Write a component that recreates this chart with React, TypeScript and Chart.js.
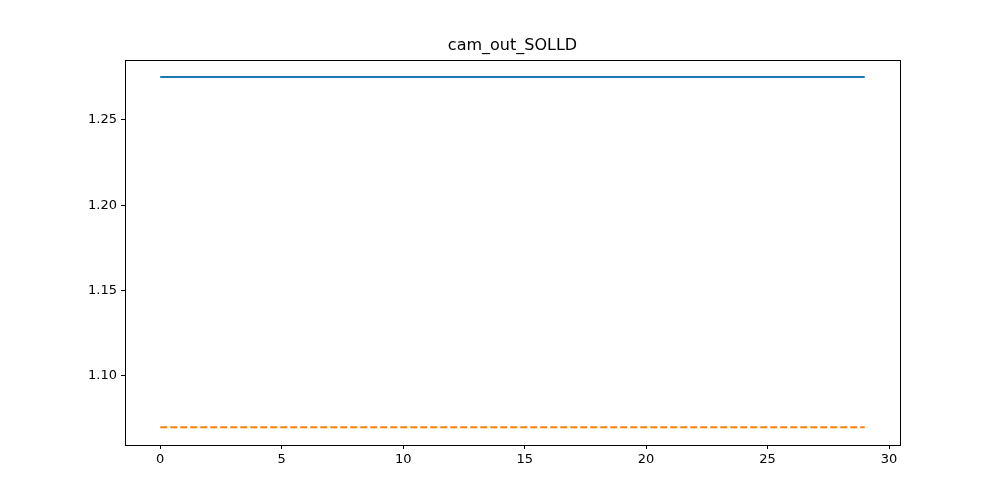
import React, { useEffect, useRef } from "react"
import { Chart, registerables } from "chart.js"

Chart.register(...registerables)

const steps = [0, 1, 2, 3, 4, 5, 6, 7, 8, 9, 10, 11, 12, 13, 14, 15, 16, 17, 18, 19, 20, 21, 22, 23, 24, 25, 26, 27, 28, 29]
const solidValues = [
  1.275, 1.275, 1.275, 1.275, 1.275, 1.275, 1.275, 1.275, 1.275, 1.275,
  1.275, 1.275, 1.275, 1.275, 1.275, 1.275, 1.275, 1.275, 1.275, 1.275,
  1.275, 1.275, 1.275, 1.275, 1.275, 1.275, 1.275, 1.275, 1.275, 1.275,
]
const dashedValues = [
  1.07, 1.07, 1.07, 1.07, 1.07, 1.07, 1.07, 1.07, 1.07, 1.07,
  1.07, 1.07, 1.07, 1.07, 1.07, 1.07, 1.07, 1.07, 1.07, 1.07,
  1.07, 1.07, 1.07, 1.07, 1.07, 1.07, 1.07, 1.07, 1.07, 1.07,
]
const xTicks = [0, 5, 10, 15, 20, 25, 30]
const yTicks = [1.1, 1.15, 1.2, 1.25]
const title = "cam_out_SOLLD"

const font = { family: "DejaVu Sans", size: 13 }

const framePlugin = {
  id: "frame",
  afterDraw(chart: any) {
    const { ctx, chartArea: a } = chart
    ctx.save()
    ctx.strokeStyle = "#000"
    ctx.lineWidth = 1
    ctx.strokeRect(a.left + 0.5, a.top + 0.5, a.right - a.left, a.bottom - a.top)
    ctx.fillStyle = "#000"
    ctx.font = "16px 'DejaVu Sans'"
    ctx.textAlign = "center"
    ctx.textBaseline = "bottom"
    ctx.fillText(title, (a.left + a.right) / 2, a.top - 6)
    ctx.restore()
  },
}

const App: React.FC = () => {
  const ref = useRef<HTMLCanvasElement | null>(null)

  useEffect(() => {
    if (!ref.current) return
    const chart = new Chart(ref.current, {
      type: "line",
      data: {
        datasets: [
          {
            data: steps.map((x, i) => ({ x, y: solidValues[i] })),
            borderColor: "#1f77b4",
            borderWidth: 2,
            pointRadius: 0,
          },
          {
            data: steps.map((x, i) => ({ x, y: dashedValues[i] })),
            borderColor: "#ff7f0e",
            borderWidth: 2,
            borderDash: [7, 3],
            pointRadius: 0,
          },
        ],
      },
      options: {
        animation: false,
        responsive: false,
        layout: { padding: { top: 60, right: 100, left: 0, bottom: 0 } },
        plugins: { legend: { display: false }, title: { display: false }, tooltip: { enabled: false } },
        scales: {
          x: {
            type: "linear",
            min: -1.45,
            max: 30.45,
            afterBuildTicks: (s: any) => { s.ticks = xTicks.map((v) => ({ value: v })) },
            afterFit: (s: any) => { s.height = 55 },
            grid: { drawOnChartArea: false, drawTicks: true, tickLength: 4, color: "#000" },
            border: { display: true, color: "#000" },
            ticks: { color: "#000", font, padding: 3, maxRotation: 0, callback: (v: any) => String(v) },
          },
          y: {
            type: "linear",
            min: 1.0596,
            max: 1.285,
            afterBuildTicks: (s: any) => { s.ticks = yTicks.map((v) => ({ value: v })) },
            afterFit: (s: any) => { s.width = 125 },
            grid: { drawOnChartArea: false, drawTicks: true, tickLength: 4, color: "#000" },
            border: { display: true, color: "#000" },
            ticks: { color: "#000", font, padding: 4, callback: (v: any) => Number(v).toFixed(2) },
          },
        },
      },
      plugins: [framePlugin],
    })
    return () => chart.destroy()
  }, [])

  return (
    <div style={{ position: "fixed", left: 0, top: 0, width: 1000, height: 500, background: "#fff" }}>
      <canvas ref={ref} width={1000} height={500} style={{ width: 1000, height: 500 }} />
    </div>
  )
}

export default App
